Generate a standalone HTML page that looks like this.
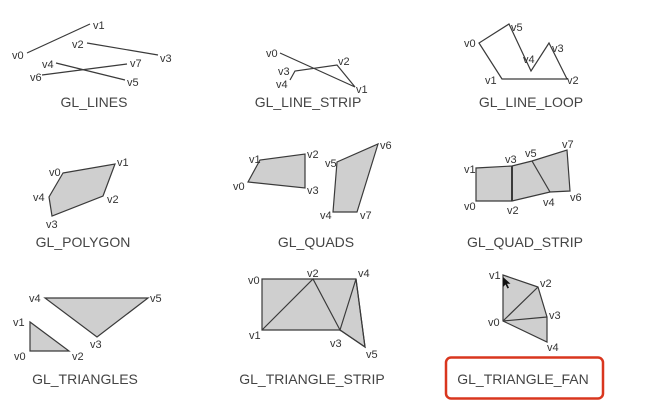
<!DOCTYPE html>
<html><head><meta charset="utf-8"><style>
html,body{margin:0;padding:0;background:#fff;width:649px;height:412px;overflow:hidden}
svg{display:block}
text{font-family:"Liberation Sans",sans-serif;fill:#333}
.l{font-size:11px}
.c{font-size:14px;fill:#444;text-anchor:middle}
.s{stroke:#3a3a3a;stroke-width:1.2;fill:none}
.f{stroke:#3a3a3a;stroke-width:1.2;fill:#cfcfcf}
</style></head><body>
<svg width="649" height="412" viewBox="0 0 649 412" xmlns="http://www.w3.org/2000/svg">
<!-- GL_LINES -->
<line class="s" x1="27" y1="53" x2="90" y2="24"/>
<line class="s" x1="87" y1="43" x2="158" y2="55"/>
<line class="s" x1="56" y1="63" x2="125" y2="80"/>
<line class="s" x1="42" y1="75" x2="127" y2="64"/>
<text class="l" x="12" y="59">v0</text><text class="l" x="93" y="29">v1</text>
<text class="l" x="72" y="48">v2</text><text class="l" x="160" y="62">v3</text>
<text class="l" x="42" y="68">v4</text><text class="l" x="127" y="86">v5</text>
<text class="l" x="30" y="81">v6</text><text class="l" x="130" y="67">v7</text>
<text class="c" x="94" y="107">GL_LINES</text>
<!-- GL_LINE_STRIP -->
<polyline class="s" points="280,53 355,87 337,65 295,71 290,80"/>
<text class="l" x="266" y="57">v0</text><text class="l" x="356" y="93">v1</text>
<text class="l" x="338" y="65">v2</text><text class="l" x="278" y="75">v3</text>
<text class="l" x="276" y="88">v4</text>
<text class="c" x="308" y="107">GL_LINE_STRIP</text>
<!-- GL_LINE_LOOP -->
<polygon class="s" points="479,43 502,79 567,79 549,43 531,71 509,24"/>
<text class="l" x="464" y="47">v0</text><text class="l" x="511" y="31">v5</text>
<text class="l" x="523" y="63">v4</text><text class="l" x="552" y="52">v3</text>
<text class="l" x="485" y="84">v1</text><text class="l" x="567" y="84">v2</text>
<text class="c" x="531" y="107">GL_LINE_LOOP</text>
<!-- GL_POLYGON -->
<polygon class="f" points="63,173 115,164 103,196 52,216 49,197"/>
<text class="l" x="49" y="176">v0</text><text class="l" x="117" y="166">v1</text>
<text class="l" x="107" y="203">v2</text><text class="l" x="46" y="228">v3</text>
<text class="l" x="33" y="201">v4</text>
<text class="c" x="83" y="247">GL_POLYGON</text>
<!-- GL_QUADS -->
<polygon class="f" points="248,182 260,160 305,154 305,188"/>
<polygon class="f" points="333,212 337,162 378,144 357,212"/>
<text class="l" x="249" y="163">v1</text><text class="l" x="307" y="158">v2</text>
<text class="l" x="233" y="190">v0</text><text class="l" x="307" y="194">v3</text>
<text class="l" x="325" y="167">v5</text><text class="l" x="380" y="149">v6</text>
<text class="l" x="320" y="219">v4</text><text class="l" x="360" y="219">v7</text>
<text class="c" x="316" y="247">GL_QUADS</text>
<!-- GL_QUAD_STRIP -->
<polygon class="f" points="476,201 476,168 512,166 532,161 567,150 570,191 550,192 512,201"/>
<line class="s" x1="512" y1="166" x2="512" y2="201" style="stroke-width:2"/>
<line class="s" x1="532" y1="161" x2="550" y2="192"/>
<text class="l" x="464" y="173">v1</text><text class="l" x="505" y="163">v3</text>
<text class="l" x="525" y="157">v5</text><text class="l" x="562" y="148">v7</text>
<text class="l" x="464" y="210">v0</text><text class="l" x="507" y="214">v2</text>
<text class="l" x="543" y="206">v4</text><text class="l" x="570" y="201">v6</text>
<text class="c" x="525" y="247">GL_QUAD_STRIP</text>
<!-- GL_TRIANGLES -->
<polygon class="f" points="30,351 30,322 69,351"/>
<polygon class="f" points="45,298 148,298 97,337"/>
<text class="l" x="13" y="326">v1</text><text class="l" x="14" y="360">v0</text>
<text class="l" x="72" y="360">v2</text><text class="l" x="29" y="302">v4</text>
<text class="l" x="150" y="302">v5</text><text class="l" x="90" y="348">v3</text>
<text class="c" x="85" y="384">GL_TRIANGLES</text>
<!-- GL_TRIANGLE_STRIP -->
<polygon class="f" points="262,279 356,279 365,347 340,330 262,330"/>
<polyline class="s" points="262,330 313,279 340,330 356,279 365,347 340,330"/>
<text class="l" x="248" y="284">v0</text><text class="l" x="307" y="277">v2</text>
<text class="l" x="358" y="277">v4</text><text class="l" x="249" y="339">v1</text>
<text class="l" x="330" y="347">v3</text><text class="l" x="366" y="358">v5</text>
<text class="c" x="312" y="384">GL_TRIANGLE_STRIP</text>
<!-- GL_TRIANGLE_FAN -->
<polygon class="f" points="503,321 503,275 538,287 547,317 547,342"/>
<line class="s" x1="503" y1="321" x2="538" y2="287"/>
<line class="s" x1="503" y1="321" x2="547" y2="317"/>
<path d="M503,277 l0,10 l2.5,-2.5 l2,4 l1.5,-0.8 l-2,-4 l3.5,0 z" fill="#111"/>
<text class="l" x="489" y="279">v1</text><text class="l" x="540" y="287">v2</text>
<text class="l" x="549" y="319">v3</text><text class="l" x="488" y="326">v0</text>
<text class="l" x="547" y="351">v4</text>
<text class="c" x="523" y="384">GL_TRIANGLE_FAN</text>
<rect x="446" y="357.5" width="157" height="41" rx="5" fill="none" stroke="#d9361e" stroke-width="2.5"/>
</svg>
</body></html>
